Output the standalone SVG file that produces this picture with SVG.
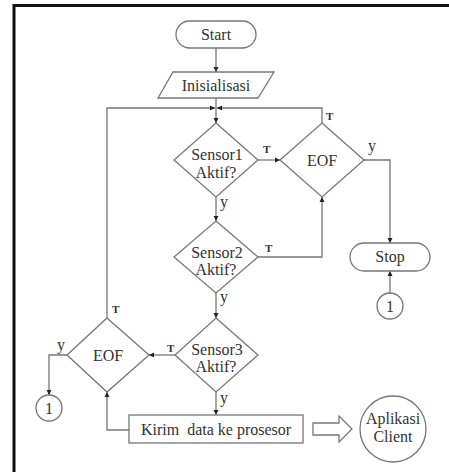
<svg xmlns="http://www.w3.org/2000/svg" width="449" height="472" viewBox="0 0 449 472">
<style>
.s{fill:#fff;stroke:#777;stroke-width:1.3}
.c{fill:none;stroke:#777;stroke-width:1.3}
.t{font-family:'Liberation Serif','Times New Roman',Times,serif;font-size:16px;fill:#333;text-anchor:middle}
.l{font-family:'Liberation Serif','Times New Roman',Times,serif;fill:#333}
.T{font-size:11px;font-weight:bold}
.y{font-size:16px}
</style>
<defs>
<marker id="a" markerUnits="userSpaceOnUse" markerWidth="6" markerHeight="6" refX="5" refY="3" orient="auto">
<path d="M0,0.5 L5,3 L0,5.5 Z" fill="#222"/>
</marker>
</defs>
<rect width="449" height="472" fill="#fff"/>
<g id="frame">
<path d="M449 5.5 H14 V472" fill="none" stroke="#111" stroke-width="3"/>
</g>
<g id="connectors" class="c">
<path d="M216 48 V72" marker-end="url(#a)"/>
<path d="M216 98 V123" marker-end="url(#a)"/>
<path d="M107 318 V108 H215" marker-end="url(#a)"/>
<path d="M322 123 V108 H217" marker-end="url(#a)"/>
<path d="M258 160 H280" marker-end="url(#a)"/>
<path d="M364 160 H390 V243" marker-end="url(#a)"/>
<path d="M216 197 V221" marker-end="url(#a)"/>
<path d="M258 257 H322 V197" marker-end="url(#a)"/>
<path d="M216 293 V318" marker-end="url(#a)"/>
<path d="M390 293 V271" marker-end="url(#a)"/>
<path d="M175 355 H149" marker-end="url(#a)"/>
<path d="M67 355 H49 V395" marker-end="url(#a)"/>
<path d="M216 392 V415" marker-end="url(#a)"/>
<path d="M129 430 H107 V392" marker-end="url(#a)"/>
</g>
<g id="labels" class="l">
<text class="T" x="326" y="120">T</text>
<text class="T" x="263" y="153">T</text>
<text class="y" x="368" y="151">y</text>
<text class="y" x="220" y="207">y</text>
<text class="T" x="265" y="252">T</text>
<text class="y" x="220" y="302">y</text>
<text class="T" x="112" y="313">T</text>
<text class="T" x="167" y="352">T</text>
<text class="y" x="57" y="350">y</text>
<text class="y" x="220" y="403">y</text>
</g>
<g id="start">
<rect class="s" x="176" y="21" width="80" height="27" rx="13.5"/>
<text class="t" x="216" y="40">Start</text>
</g>
<g id="inisialisasi">
<polygon class="s" points="173,72 274,72 258,98 158,98"/>
<text class="t" x="216" y="91">Inisialisasi</text>
</g>
<g id="sensor1">
<polygon class="s" points="216,123 258,160 216,197 174,160"/>
<text class="t" x="217" y="160">Sensor1</text>
<text class="t" x="216" y="178">Aktif?</text>
</g>
<g id="eof1">
<polygon class="s" points="322,123 364,160 322,197 280,160"/>
<text class="t" x="322" y="166">EOF</text>
</g>
<g id="stop">
<rect class="s" x="350" y="243" width="80" height="28" rx="14"/>
<text class="t" x="390" y="262">Stop</text>
</g>
<g id="conn1a">
<circle class="s" cx="390" cy="306" r="13"/>
<text class="t" x="390" y="311.5">1</text>
</g>
<g id="sensor2">
<polygon class="s" points="216,221 258,257 216,293 174,257"/>
<text class="t" x="217" y="258">Sensor2</text>
<text class="t" x="216" y="275">Aktif?</text>
</g>
<g id="sensor3">
<polygon class="s" points="216,318 258,355 216,392 175,355"/>
<text class="t" x="217" y="355">Sensor3</text>
<text class="t" x="216" y="372">Aktif?</text>
</g>
<g id="eof2">
<polygon class="s" points="107,318 149,355 107,392 67,355"/>
<text class="t" x="108" y="361">EOF</text>
</g>
<g id="conn1b">
<circle class="s" cx="49" cy="408" r="13"/>
<text class="t" x="49" y="413.5">1</text>
</g>
<g id="kirim">
<rect class="s" x="129" y="415" width="174" height="28"/>
<text class="t" x="216" y="435" xml:space="preserve">Kirim  data ke prosesor</text>
</g>
<g id="blockarrow">
<polygon class="s" points="313,423 339,423 339,416 352,429 339,442 339,435 313,435"/>
</g>
<g id="aplikasi">
<circle class="s" cx="393" cy="429" r="33"/>
<text class="t" x="393" y="424">Aplikasi</text>
<text class="t" x="393" y="442">Client</text>
</g>
</svg>
